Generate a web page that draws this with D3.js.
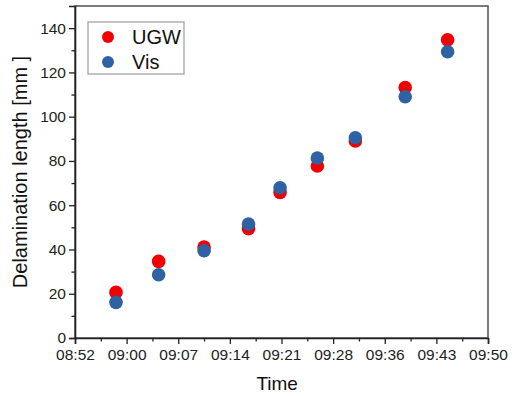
<!DOCTYPE html>
<html>
<head>
<meta charset="utf-8">
<script src="https://cdn.jsdelivr.net/npm/d3@7"></script>
<style>
  body { margin: 0; background: #fff; }
  svg { display: block; font-family: "Liberation Sans", Arial, sans-serif; }
</style>
</head>
<body>
<svg id="chart" width="512" height="396"></svg>
<script>
// measurement times (hh:mm:ss) and delamination lengths [mm]
const times = ["08:58:31", "09:04:28", "09:10:48", "09:17:00", "09:21:24", "09:26:36", "09:31:54", "09:38:51", "09:44:46"];
const ugw = [20.6, 34.6, 41.1, 49.4, 65.8, 77.7, 89.0, 113.2, 134.7];
const vis = [16.1, 28.6, 39.4, 51.5, 67.9, 81.3, 90.5, 109.0, 129.3];

// axis ticks: Origin style, equal steps of 7.2 min
const xTickTimes = ["08:52:48", "09:00:00", "09:07:12", "09:14:24", "09:21:36", "09:28:48", "09:36:00", "09:43:12", "09:50:24"];
const yTicks = [0, 20, 40, 60, 80, 100, 120, 140];

const parse = d3.timeParse("%H:%M:%S");
const fmt = d3.timeFormat("%H:%M");

const svg = d3.select("#chart");
const margin = {top: 6, right: 24, bottom: 58, left: 75};
const width = 512 - margin.left - margin.right;
const height = 396 - margin.top - margin.bottom;

const xTickDates = xTickTimes.map(parse);
const x = d3.scaleTime()
  .domain([xTickDates[0], xTickDates[xTickDates.length - 1]])
  .range([0, width]);
const y = d3.scaleLinear().domain([0, 150]).range([height, 0]);

const g = svg.append("g").attr("transform", `translate(${margin.left},${margin.top})`);

// frame
g.append("rect")
  .attr("width", width).attr("height", height)
  .attr("fill", "none").attr("stroke", "#5a5a5a").attr("stroke-width", 1.6);

// minor ticks (halfway between majors)
const xMinor = d3.pairs(xTickDates).map(p => new Date((+p[0] + +p[1]) / 2));
g.append("g")
  .attr("transform", `translate(0,${height})`)
  .call(d3.axisBottom(x).tickValues(xMinor).tickSize(3.5).tickFormat(""))
  .call(a => a.select(".domain").remove())
  .selectAll("line").attr("stroke", "#222").attr("stroke-width", 1.3);
g.append("g")
  .call(d3.axisLeft(y).tickValues(d3.range(10, 150, 20)).tickSize(3.5).tickFormat(""))
  .call(a => a.select(".domain").remove())
  .selectAll("line").attr("stroke", "#222").attr("stroke-width", 1.3);

// major axes
const xAxis = g.append("g")
  .attr("transform", `translate(0,${height})`)
  .call(d3.axisBottom(x).tickValues(xTickDates).tickSize(6).tickPadding(5).tickFormat(fmt));
const yAxis = g.append("g")
  .call(d3.axisLeft(y).tickValues(yTicks).tickSize(6).tickPadding(3));

[xAxis, yAxis].forEach(a => {
  a.select(".domain").attr("stroke", "#222").attr("stroke-width", 1.6);
  a.selectAll(".tick line").attr("stroke", "#222").attr("stroke-width", 1.3);
  a.selectAll(".tick text")
    .attr("fill", "#222")
    .style("font-size", "15.5px")
    .style("font-family", "'Liberation Sans', Arial, sans-serif");
});

// axis titles
svg.append("text")
  .attr("x", margin.left + x(parse("09:21:00")))
  .attr("y", 390)
  .attr("text-anchor", "middle")
  .style("font-size", "19px").attr("fill", "#111")
  .text("Time");
svg.append("text")
  .attr("transform", `translate(27,${margin.top + height / 2}) rotate(-90)`)
  .attr("text-anchor", "middle")
  .style("font-size", "20px").attr("fill", "#111")
  .text("Delamination length [mm ]");

// points: UGW below, Vis on top
const rows = times.map((t, i) => ({t: parse(t), ugw: ugw[i], vis: vis[i]}));
const red = "#f00000", blue = "#2e62a2";

g.append("g").selectAll("circle")
  .data(rows).enter().append("circle")
  .attr("cx", d => x(d.t)).attr("cy", d => y(d.ugw))
  .attr("r", 6.8).attr("fill", red);
g.append("g").selectAll("circle")
  .data(rows).enter().append("circle")
  .attr("cx", d => x(d.t)).attr("cy", d => y(d.vis))
  .attr("r", 6.8).attr("fill", blue);

// legend
const legend = g.append("g").attr("transform", "translate(13,16)");
legend.append("rect")
  .attr("width", 96).attr("height", 52)
  .attr("fill", "#fff").attr("stroke", "#888").attr("stroke-width", 1);
[["UGW", red], ["Vis", blue]].forEach(([name, col], i) => {
  legend.append("circle")
    .attr("cx", 20).attr("cy", 15 + i * 25)
    .attr("r", 6).attr("fill", col);
  legend.append("text")
    .attr("x", 44).attr("y", 15 + i * 25)
    .attr("dy", "0.36em")
    .style("font-size", "20px").attr("fill", "#111")
    .text(name);
});
</script>
</body>
</html>
